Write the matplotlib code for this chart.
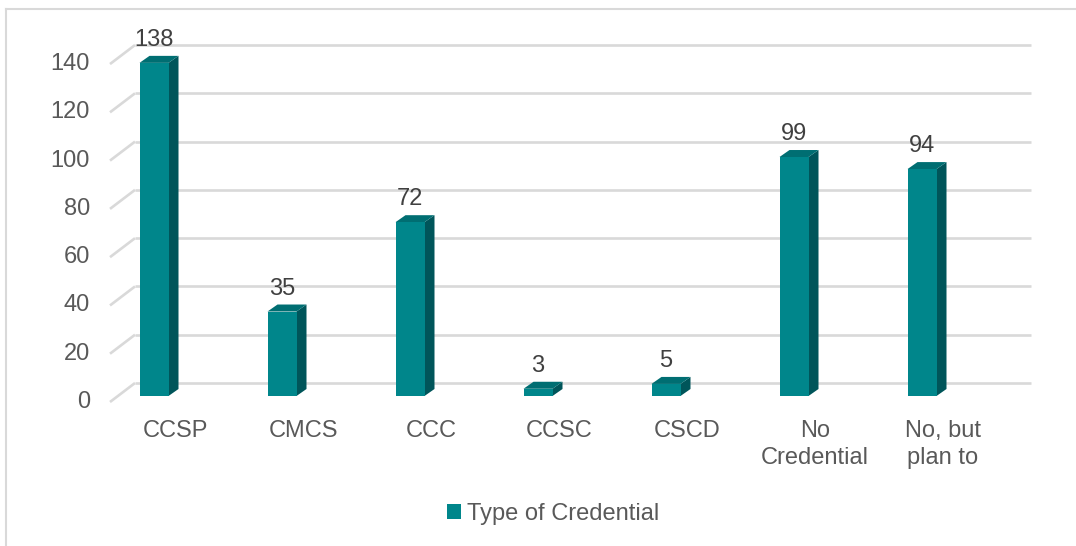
import matplotlib
matplotlib.use("Agg")
import matplotlib.pyplot as plt
from matplotlib.patches import Polygon, Rectangle, Patch

plt.rcParams['font.family'] = ['Liberation Sans', 'DejaVu Sans']

# data
categories = ["CCSP", "CMCS", "CCC", "CCSC", "CSCD", "No\nCredential", "No, but\nplan to"]
counts = [138, 35, 72, 3, 5, 99, 94]
y_ticks = [0, 20, 40, 60, 80, 100, 120, 140]
series_name = "Type of Credential"

# look
FRONT = "#00868B"
TOP = "#006E72"
SIDE = "#00555A"
GRID = "#d9d9d9"
TICK_TXT = "#595959"
VAL_TXT = "#404040"
FS = 17

# canvas geometry (pixels)
W, H, DPI = 1076, 546, 100
STEP_PX = 128.0        # distance between categories
FIRST_PX = 154.0       # centre of the first column front face
BASE_PX = 396.0        # floor line of the column fronts
UNIT_PX = 2.414        # pixels per count

fig = plt.figure(figsize=(W / DPI, H / DPI), dpi=DPI)
ax = fig.add_axes([0, 0, 1, 1])
ax.set_xlim(-FIRST_PX / STEP_PX, (W - FIRST_PX) / STEP_PX)
ax.set_ylim((BASE_PX - H) / UNIT_PX, BASE_PX / UNIT_PX)
ax.axis('off')


def px_x(p):
    return p / STEP_PX


def px_y(p):
    return p / UNIT_PX


# 3d offsets in data units
half_w = px_x(14.5)
depth_dx, depth_dy = px_x(10), px_y(7)
wall_left, wall_right = px_x(135 - FIRST_PX), px_x(1031 - FIRST_PX)
floor_left = px_x(110 - FIRST_PX)
wall_dy, floor_dy = px_y(13), px_y(6)

# back wall gridlines with the slanted floor edge on the left
for v in y_ticks:
    ax.plot([wall_left, wall_right], [v + wall_dy] * 2, color=GRID, lw=1.9,
            solid_capstyle='butt', zorder=1)
    ax.plot([floor_left, wall_left], [v - floor_dy, v + wall_dy], color=GRID, lw=1.9,
            solid_capstyle='butt', zorder=1)
    ax.text(px_x(90 - FIRST_PX), v - floor_dy, str(v), ha='right', va='center',
            fontsize=FS, color=TICK_TXT)

# columns
for i, (cat, v) in enumerate(zip(categories, counts)):
    x0, x1 = i - half_w, i + half_w
    ax.add_patch(Polygon([(x1, 0), (x1 + depth_dx, depth_dy), (x1 + depth_dx, v + depth_dy), (x1, v)],
                         closed=True, facecolor=SIDE, edgecolor='none', zorder=3))
    ax.add_patch(Polygon([(x0, v), (x1, v), (x1 + depth_dx, v + depth_dy), (x0 + depth_dx, v + depth_dy)],
                         closed=True, facecolor=TOP, edgecolor='none', zorder=3))
    ax.add_patch(Rectangle((x0, 0), x1 - x0, v, facecolor=FRONT, edgecolor='none', zorder=4))
    ax.annotate(str(v), (i, v), xytext=(0, 16.5), textcoords='offset points',
                ha='center', va='center', fontsize=FS, color=VAL_TXT, zorder=5)
    ax.text(i + px_x(21), -px_y(24), cat, ha='center', va='top', fontsize=FS,
            color=TICK_TXT, linespacing=1.3)

# chart frame
fig.add_artist(plt.Line2D([6 / W, 6 / W], [0, 1 - 9 / H], color=GRID, lw=1.5))
fig.add_artist(plt.Line2D([6 / W, 1], [1 - 9 / H, 1 - 9 / H], color=GRID, lw=1.5))

fig.legend(handles=[Patch(facecolor=FRONT, edgecolor='none', label=series_name)],
           loc='center', bbox_to_anchor=(553 / W, 1 - 514 / H), frameon=False,
           fontsize=FS, handlelength=0.6, handleheight=0.6, handletextpad=0.25,
           labelcolor=TICK_TXT)

fig.savefig("out.png", dpi=DPI)
